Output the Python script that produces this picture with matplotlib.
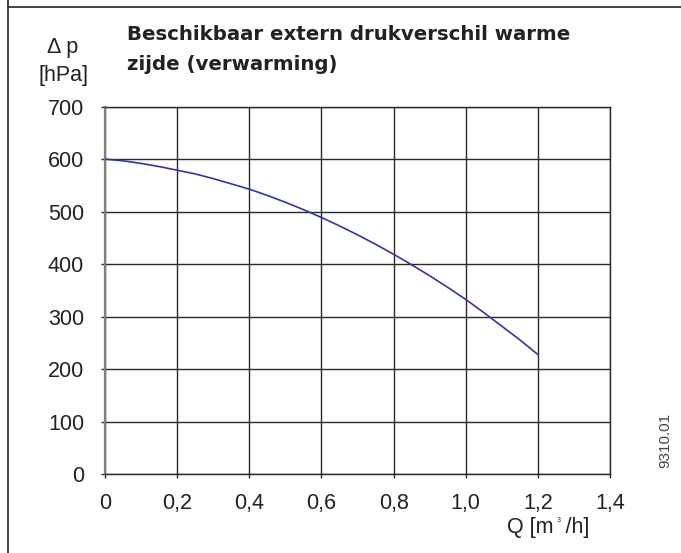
import matplotlib
matplotlib.use("Agg")
import matplotlib.pyplot as plt
from matplotlib.lines import Line2D

# flow Q [m3/h] and available pressure difference [hPa]
flow = [0.0, 0.05, 0.1, 0.15, 0.2, 0.25, 0.3, 0.35, 0.4, 0.45, 0.5, 0.55, 0.6,
        0.65, 0.7, 0.75, 0.8, 0.85, 0.9, 0.95, 1.0, 1.05, 1.1, 1.15, 1.2]
pressure = [600, 597, 592, 586, 579, 572, 563, 553, 543, 531, 518, 504, 489,
            473, 456, 438, 419, 399, 378, 356, 333, 308, 282, 256, 228]

x_ticks = [0.0, 0.2, 0.4, 0.6, 0.8, 1.0, 1.2, 1.4]
x_labels = ["0", "0,2", "0,4", "0,6", "0,8", "1,0", "1,2", "1,4"]
y_ticks = [0, 100, 200, 300, 400, 500, 600, 700]

plt.rcParams["font.family"] = ["Liberation Sans", "DejaVu Sans"]

fig = plt.figure(figsize=(6.81, 5.53), dpi=100)
ax = fig.add_axes([0.1542, 0.1423, 0.7416, 0.6648])

ax.plot(flow, pressure, color="#3236a0", linewidth=1.2, zorder=3)

ax.set_xlim(0, 1.4)
ax.set_ylim(0, 700)
ax.set_xticks(x_ticks)
ax.set_xticklabels(x_labels)
ax.set_yticks(y_ticks)
ax.grid(True, color="#2a2a2a", linewidth=1.0)
for side in ["top", "right", "bottom"]:
    ax.spines[side].set_color("#2a2a2a")
    ax.spines[side].set_linewidth(1.0)
ax.spines["left"].set_color("#808080")
ax.spines["left"].set_linewidth(1.6)
ax.tick_params(axis="both", length=3, width=1, color="#2a2a2a",
               labelsize=15.5, labelcolor="#222222")
ax.tick_params(axis="x", pad=10.5)
ax.tick_params(axis="y", pad=12)

# axis captions
fig.text(63 / 681, 1 - 48 / 553, "\u0394 p", ha="center", va="center",
         fontsize=15.5, color="#222222")
fig.text(63 / 681, 1 - 75 / 553, "[hPa]", ha="center", va="center",
         fontsize=15.5, color="#222222")
fig.text(548 / 681, 1 - 527 / 553, "Q [m  /h]", ha="center", va="center",
         fontsize=15.5, color="#222222")
fig.text(559 / 681, 1 - 521 / 553, "3", ha="center", va="center",
         fontsize=5, color="#222222")

# title
fig.text(127 / 681, 1 - 35 / 553, "Beschikbaar extern drukverschil warme",
         ha="left", va="center", fontsize=14.2, fontweight="bold",
         family=["DejaVu Sans"], color="#222222")
fig.text(127 / 681, 1 - 65 / 553, "zijde (verwarming)",
         ha="left", va="center", fontsize=14.2, fontweight="bold",
         family=["DejaVu Sans"], color="#222222")

# drawing number
fig.text(665 / 681, 1 - 440 / 553, "9310.01", rotation=90, ha="center",
         va="center", fontsize=11, color="#444444")

# frame lines of the page
fig.add_artist(Line2D([8 / 681, 8 / 681], [0, 1], transform=fig.transFigure,
                      color="#333333", linewidth=1.3))
fig.add_artist(Line2D([8 / 681, 1], [1 - 7 / 553, 1 - 7 / 553],
                      transform=fig.transFigure, color="#333333", linewidth=1.3))

fig.savefig("out.png", dpi=100)
